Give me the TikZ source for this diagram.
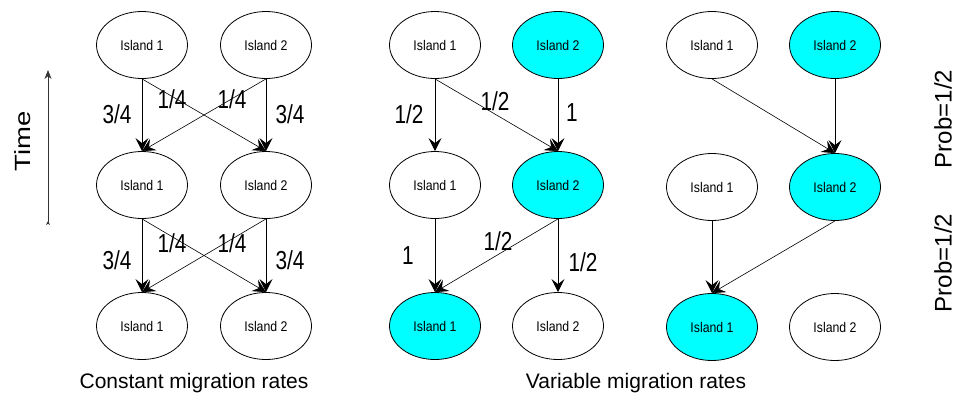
\documentclass[tikz,border=0pt]{standalone}
\usepackage{fontspec}
\setmainfont{Liberation Sans}
\usepackage{tikz}
\usetikzlibrary{arrows.meta,shapes.geometric,positioning}
\definecolor{islecyan}{RGB}{0,255,255}
\newcommand{\rate}[1]{\scalebox{0.8}[1]{#1}}
\newcommand{\isle}[1]{\scalebox{0.88}[1]{#1}}

\begin{document}
\begin{tikzpicture}[x=1pt,y=-1pt,
	island/.style={ellipse,draw,line width=0.8pt,minimum width=91pt,minimum height=67pt,inner sep=0pt,font=\fontsize{14}{14}\selectfont},
	filled/.style={island,fill=islecyan},
	mig/.style={-{Stealth[length=13pt,width=13pt,inset=5pt]},line width=0.6pt},
	stay/.style={mig,line width=1pt},
	lab/.style={font=\fontsize{26}{26}\selectfont},
	captiontext/.style={font=\fontsize{21}{21}\selectfont}]

	\useasboundingbox (0,0) rectangle (958,402);

	% constant migration rates
	\node[island] (a11) at (142,45) {\isle{Island 1}};
	\node[island] (a12) at (266,45) {\isle{Island 2}};
	\node[island] (a21) at (142,185) {\isle{Island 1}};
	\node[island] (a22) at (266,185) {\isle{Island 2}};
	\node[island] (a31) at (142,326) {\isle{Island 1}};
	\node[island] (a32) at (266,326) {\isle{Island 2}};

	\draw[stay] (a11.south) -- (a21.north);
	\draw[mig] (a11.south) -- (a22.north);
	\draw[mig] (a12.south) -- (a21.north);
	\draw[stay] (a12.south) -- (a22.north);
	\draw[stay] (a21.south) -- (a31.north);
	\draw[mig] (a21.south) -- (a32.north);
	\draw[mig] (a22.south) -- (a31.north);
	\draw[stay] (a22.south) -- (a32.north);

	\node[lab] (r1) at (117,114) {\rate{3/4}};
	\node[lab] (r2) at (172,99) {\rate{1/4}};
	\node[lab] (r3) at (232,99) {\rate{1/4}};
	\node[lab] (r4) at (290,114) {\rate{3/4}};
	\node[lab] (r5) at (117,260) {\rate{3/4}};
	\node[lab] (r6) at (172,243) {\rate{1/4}};
	\node[lab] (r7) at (232,243) {\rate{1/4}};
	\node[lab] (r8) at (290,260) {\rate{3/4}};

	% time axis
	\coordinate (tbot) at (48,225);
	\coordinate (ttop) at (48,70);
	\draw[line width=0.7pt,black!80,{Stealth[length=4pt,width=4pt,reversed]}-{Stealth[length=9pt,width=7pt]}] (tbot) -- (ttop);
	\node[rotate=90,font=\fontsize{22}{22}\selectfont] (time) at (23,141) {\scalebox{1.25}[1]{Time}};

	% variable migration rates, first case
	\node[island] (b11) at (435,45) {\isle{Island 1}};
	\node[filled] (b12) at (558,45) {\isle{Island 2}};
	\node[island] (b21) at (435,185) {\isle{Island 1}};
	\node[filled] (b22) at (558,185) {\isle{Island 2}};
	\node[filled] (b31) at (435,326) {\isle{Island 1}};
	\node[island] (b32) at (558,326) {\isle{Island 2}};

	\draw[stay] (b11.south) -- (b21.north);
	\draw[mig] (b11.south) -- (b22.north);
	\draw[stay] (b12.south) -- (b22.north);
	\draw[stay] (b21.south) -- (b31.north);
	\draw[mig] (b22.south) -- (b31.north);
	\draw[stay] (b22.south) -- (b32.north);

	\node[lab] (s1) at (409,114) {\rate{1/2}};
	\node[lab] (s2) at (495,101) {\rate{1/2}};
	\node[lab] (s3) at (572,113) {\rate{1}};
	\node[lab] (s4) at (408,256) {\rate{1}};
	\node[lab] (s5) at (498,241) {\rate{1/2}};
	\node[lab] (s6) at (583,262) {\rate{1/2}};

	% variable migration rates, second case
	\node[island] (c11) at (712,45) {\isle{Island 1}};
	\node[filled] (c12) at (835,45) {\isle{Island 2}};
	\node[island] (c21) at (712,187) {\isle{Island 1}};
	\node[filled] (c22) at (835,187) {\isle{Island 2}};
	\node[filled] (c31) at (712,327) {\isle{Island 1}};
	\node[island] (c32) at (835,327) {\isle{Island 2}};

	\draw[mig] (c11.south) -- (c22.north);
	\draw[stay] (c12.south) -- (c22.north);
	\draw[stay] (c21.south) -- (c31.north);
	\draw[mig] (c22.south) -- (c31.north);

	\node[lab,rotate=90,font=\fontsize{24}{24}\selectfont] (p1) at (943,119) {Prob=1/2};
	\node[lab,rotate=90,font=\fontsize{24}{24}\selectfont] (p2) at (943,263) {Prob=1/2};

	\node[captiontext] (const) at (194,383) {Constant migration rates};
	\node[captiontext] (var) at (636,383) {Variable migration rates};
\end{tikzpicture}
\end{document}
